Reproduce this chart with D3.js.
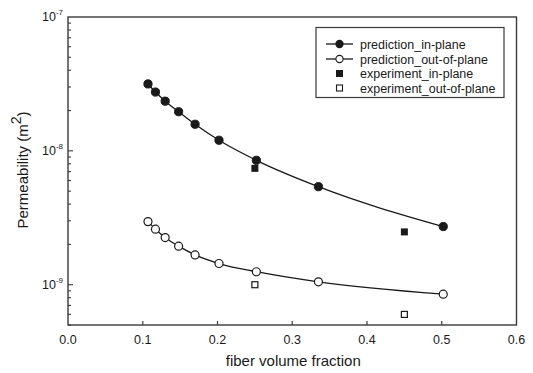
<!DOCTYPE html>
<html><head><meta charset="utf-8">
<script src="https://cdn.jsdelivr.net/npm/d3@7"></script>
<style>body{margin:0;background:#fff}svg{display:block}</style>
</head><body>
<svg id="c" width="533" height="373"></svg>
<script>
const xPred = [0.107, 0.117, 0.130, 0.148, 0.170, 0.202, 0.252, 0.335, 0.502];
const predInPlane = [3.16e-8, 2.75e-8, 2.35e-8, 1.96e-8, 1.58e-8, 1.20e-8, 8.5e-9, 5.4e-9, 2.72e-9];
const predOutPlane = [2.96e-9, 2.6e-9, 2.25e-9, 1.94e-9, 1.67e-9, 1.44e-9, 1.25e-9, 1.05e-9, 8.5e-10];
const xExp = [0.25, 0.45];
const expInPlane = [7.4e-9, 2.48e-9];
const expOutPlane = [1.0e-9, 6.0e-10];
const xTicks = [0, 0.1, 0.2, 0.3, 0.4, 0.5, 0.6];
const xTickLabels = ["0.0", "0.1", "0.2", "0.3", "0.4", "0.5", "0.6"];
const yMajor = [1e-9, 1e-8, 1e-7];
const yExponents = ["-9", "-8", "-7"];
const legendLabels = ["prediction_in-plane", "prediction_out-of-plane", "experiment_in-plane", "experiment_out-of-plane"];

const svg = d3.select("#c");
const L = 68, R = 516.5, T = 17, B = 325;
const ink = "#1a1a1a", axisCol = "#3a3a3a";
const font = "Liberation Sans, Arial, sans-serif";
const x = d3.scaleLinear().domain([0, 0.6]).range([L, R]);
const y = d3.scaleLog().domain([5e-10, 1e-7]).range([B, T]);

// frame
svg.append("rect").attr("x", L).attr("y", T).attr("width", R - L).attr("height", B - T)
  .attr("fill", "none").attr("stroke", axisCol).attr("stroke-width", 1.4);

// x ticks (inside)
svg.append("g").selectAll("line").data(xTicks.slice(1, -1)).join("line")
  .attr("x1", d => x(d)).attr("x2", d => x(d)).attr("y1", B).attr("y2", B - 4)
  .attr("stroke", axisCol).attr("stroke-width", 1.2);
svg.append("g").selectAll("text").data(xTicks).join("text")
  .attr("x", d => x(d)).attr("y", B + 19).attr("text-anchor", "middle")
  .attr("font-family", font).attr("font-size", 12.5).attr("fill", ink)
  .text((d, i) => xTickLabels[i]);

// y ticks (inside), major + minor
const yTickVals = [];
for (let e = -10; e <= -8; e++) for (let m = 1; m <= 9; m++) {
  const v = m * Math.pow(10, e);
  if (v >= 5e-10 && v <= 1e-7) yTickVals.push({v, major: m === 1});
}
svg.append("g").selectAll("line").data(yTickVals).join("line")
  .attr("x1", L).attr("x2", d => L + (d.major ? 5 : 3))
  .attr("y1", d => y(d.v)).attr("y2", d => y(d.v))
  .attr("stroke", axisCol).attr("stroke-width", 1.1);
const yl = svg.append("g").selectAll("text").data(yMajor).join("text")
  .attr("x", 63).attr("y", d => y(d) + 4).attr("text-anchor", "end")
  .attr("font-family", font).attr("font-size", 12.5).attr("fill", ink);
yl.append("tspan").text("10");
yl.append("tspan").attr("dy", -6).attr("font-size", 8).text((d, i) => yExponents[i]);

// axis titles
svg.append("text").attr("x", (L + R) / 2 + 1).attr("y", 366).attr("text-anchor", "middle")
  .attr("font-family", font).attr("font-size", 15).attr("fill", ink).text("fiber volume fraction");
const yt = svg.append("text").attr("transform", "translate(28,170) rotate(-90)")
  .attr("text-anchor", "middle").attr("font-family", font).attr("font-size", 15).attr("fill", ink);
yt.append("tspan").text("Permeability (m");
yt.append("tspan").attr("dy", -7).attr("font-size", 14).text("2");
yt.append("tspan").attr("dy", 7).text(")");

// lines
const line = d3.line().x(d => x(d[0])).y(d => y(d[1])).curve(d3.curveMonotoneX);
[predInPlane, predOutPlane].forEach(vals => {
  svg.append("path").attr("d", line(xPred.map((xv, i) => [xv, vals[i]])))
    .attr("fill", "none").attr("stroke", ink).attr("stroke-width", 1.3);
});
svg.append("g").selectAll("circle").data(xPred).join("circle")
  .attr("cx", d => x(d)).attr("cy", (d, i) => y(predInPlane[i])).attr("r", 4.1)
  .attr("fill", ink).attr("stroke", ink).attr("stroke-width", 1);
svg.append("g").selectAll("circle").data(xPred).join("circle")
  .attr("cx", d => x(d)).attr("cy", (d, i) => y(predOutPlane[i])).attr("r", 4)
  .attr("fill", "#fff").attr("stroke", ink).attr("stroke-width", 1.2);
const sq = 7;
svg.append("g").selectAll("rect").data(xExp).join("rect")
  .attr("x", d => x(d) - sq / 2).attr("y", (d, i) => y(expInPlane[i]) - sq / 2)
  .attr("width", sq).attr("height", sq).attr("fill", ink);
svg.append("g").selectAll("rect").data(xExp).join("rect")
  .attr("x", d => x(d) - 3).attr("y", (d, i) => y(expOutPlane[i]) - 3)
  .attr("width", 6).attr("height", 6).attr("fill", "#fff").attr("stroke", ink).attr("stroke-width", 1.2);

// legend
const lg = svg.append("g");
lg.append("rect").attr("x", 316).attr("y", 27.5).attr("width", 188).attr("height", 70)
  .attr("fill", "#fff").attr("stroke", axisCol).attr("stroke-width", 1.2);
const rowY = [44, 59, 73.5, 88];
legendLabels.forEach((lab, i) => {
  const cy = rowY[i], cx = 339.5;
  if (i < 2) {
    lg.append("line").attr("x1", 326).attr("x2", 353).attr("y1", cy).attr("y2", cy)
      .attr("stroke", ink).attr("stroke-width", 1.3);
    lg.append("circle").attr("cx", cx).attr("cy", cy).attr("r", 3.6)
      .attr("fill", i === 0 ? ink : "#fff").attr("stroke", ink).attr("stroke-width", 1.1);
  } else if (i === 2) {
    lg.append("rect").attr("x", cx - 3.5).attr("y", cy - 3.5).attr("width", 7).attr("height", 7).attr("fill", ink);
  } else {
    lg.append("rect").attr("x", cx - 3).attr("y", cy - 3).attr("width", 6).attr("height", 6)
      .attr("fill", "#fff").attr("stroke", ink).attr("stroke-width", 1.1);
  }
  lg.append("text").attr("x", 360).attr("y", cy + 4.5).attr("font-family", font)
    .attr("font-size", 12.5).attr("fill", ink).text(lab);
});
</script>
</body></html>
